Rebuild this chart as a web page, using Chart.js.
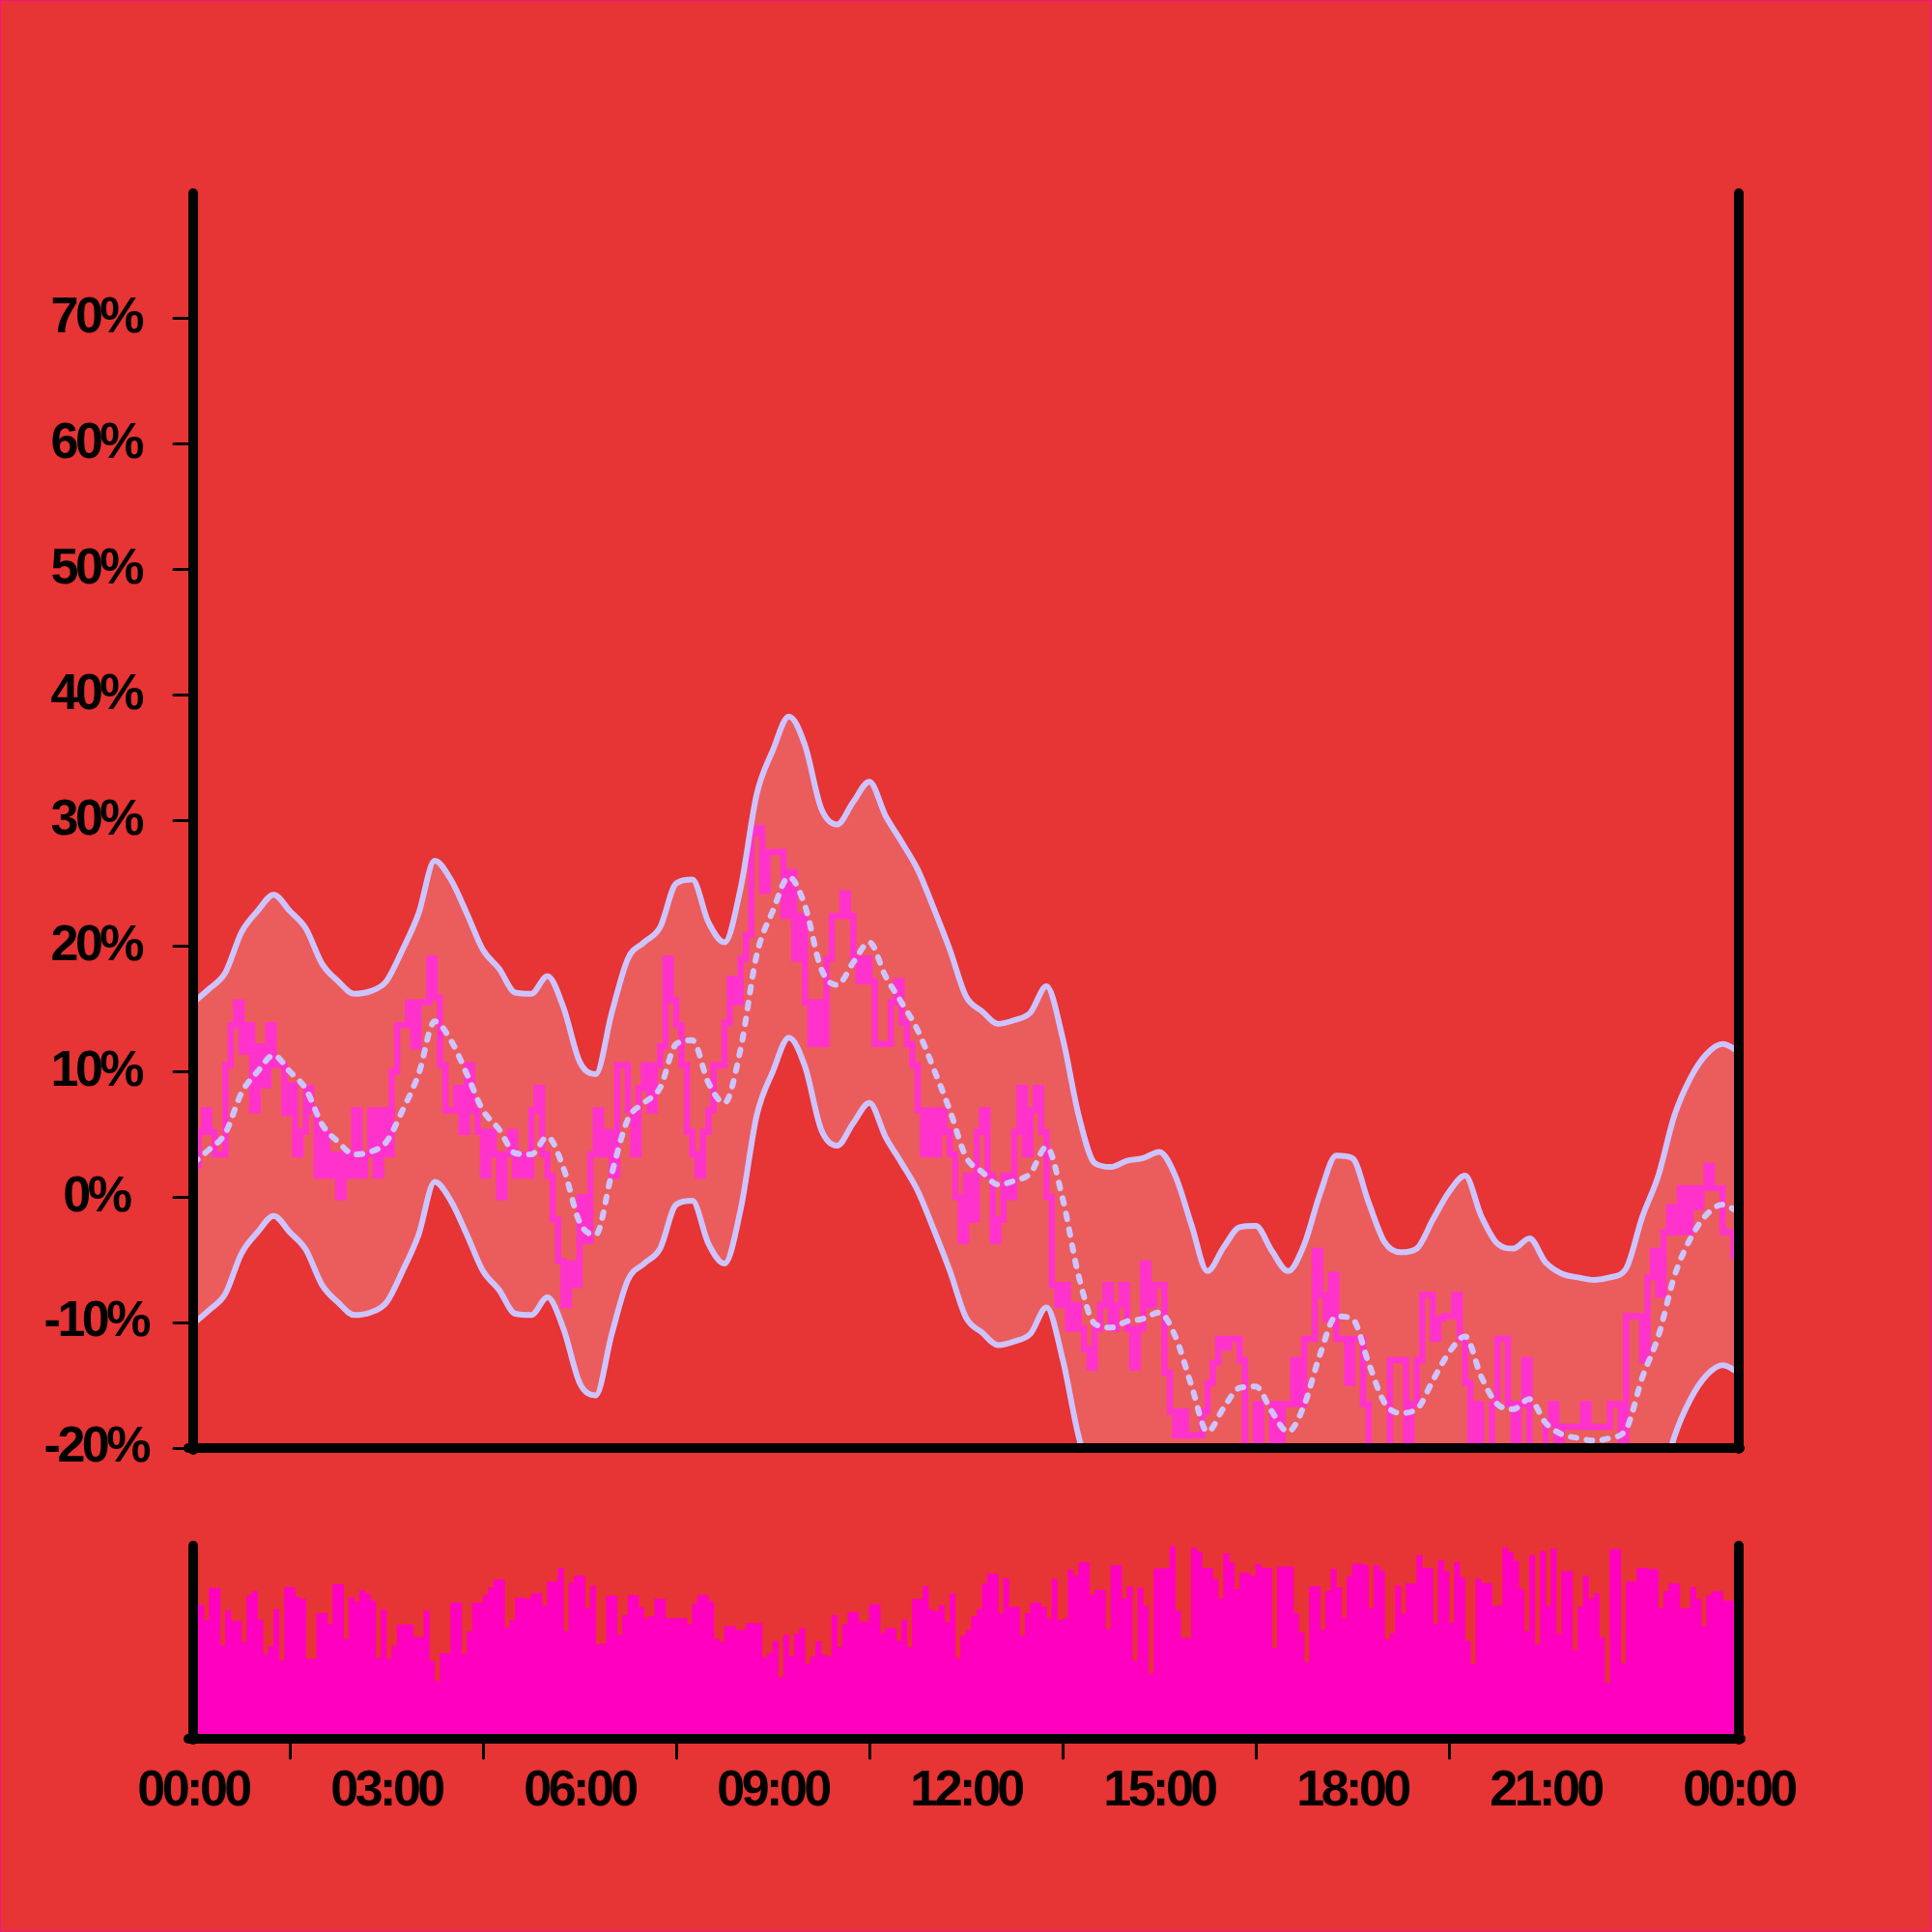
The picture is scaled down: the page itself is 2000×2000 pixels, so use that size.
<!DOCTYPE html>
<html>
<head>
<meta charset="utf-8">
<script src="https://cdn.jsdelivr.net/npm/chart.js@4.4.1/dist/chart.umd.min.js"></script>
<style>
  html, body { margin: 0; padding: 0; background: #e73434; }
  #frame { position: absolute; left: 0; top: 0; width: 2000px; height: 2000px; box-sizing: border-box; border: 1px solid #f0148c; pointer-events: none; z-index: 5; }
  #main { position: absolute; left: 0; top: 0; }
  #vol { position: absolute; left: 0; top: 1560px; }
</style>
</head>
<body>
<canvas id="main" width="2000" height="1560"></canvas>
<canvas id="vol" width="2000" height="440"></canvas>
<div id="frame"></div>
<script>
// ---------- data ----------
const hourTicks = [0, 180, 360, 540, 720, 900, 1080, 1260, 1440];
const hourLabels = ['00:00', '03:00', '06:00', '09:00', '12:00', '15:00', '18:00', '21:00', '00:00'];
const pctTicks = [-20, -10, 0, 10, 20, 30, 40, 50, 60, 70];

const bandStepMin = 15;   // envelope sampled every 15 minutes
const obsStepMin = 5;     // observed series every 5 minutes
const volStepMin = 5;     // volume bars every 5 minutes

const upperBand = [15.5, 16.6, 17.9, 21.1, 22.8, 24.1, 22.8, 21.4, 18.6, 17.2, 16.2, 16.4, 17.2, 19.7, 22.6, 26.8, 25.3, 22.6, 19.7, 18.2, 16.3, 16.2, 17.6, 15.1, 10.8, 9.8, 14.7, 19.0, 20.3, 21.5, 25.0, 25.3, 21.9, 20.3, 24.6, 32.1, 35.6, 38.3, 36.0, 31.0, 29.7, 31.5, 33.1, 30.4, 28.3, 26.1, 23.0, 19.7, 16.0, 14.8, 13.8, 14.1, 14.7, 16.8, 12.7, 6.5, 2.7, 2.4, 2.9, 3.1, 3.6, 1.7, -2.2, -5.9, -4.0, -2.4, -2.3, -4.3, -5.9, -3.8, 0.3, 3.3, 3.1, -0.4, -3.6, -4.4, -4.1, -1.8, 0.4, 1.7, -1.5, -3.7, -4.1, -3.3, -5.2, -6.1, -6.4, -6.6, -6.4, -5.7, -1.6, 1.7, 6.5, 9.5, 11.4, 12.2, 11.6];

const centerLine = [2.7, 3.8, 5.1, 8.3, 10.0, 11.3, 10.0, 8.6, 5.8, 4.4, 3.4, 3.6, 4.4, 6.9, 9.8, 14.0, 12.5, 9.8, 6.9, 5.4, 3.5, 3.4, 4.8, 2.3, -2.0, -3.0, 1.9, 6.2, 7.5, 8.7, 12.2, 12.5, 9.1, 7.5, 11.8, 19.3, 22.8, 25.5, 23.2, 18.2, 16.9, 18.7, 20.3, 17.6, 15.5, 13.3, 10.2, 6.9, 3.2, 2.0, 1.0, 1.3, 1.9, 4.0, -0.1, -6.3, -10.1, -10.4, -9.9, -9.7, -9.2, -11.1, -15.0, -18.7, -16.8, -15.2, -15.1, -17.1, -18.7, -16.6, -12.5, -9.5, -9.7, -13.2, -16.4, -17.2, -16.9, -14.6, -12.4, -11.1, -14.3, -16.5, -16.9, -16.1, -18.0, -18.9, -19.2, -19.4, -19.2, -18.5, -14.4, -11.1, -6.3, -3.3, -1.4, -0.6, -1.2];

const lowerBand = [-10.1, -9.0, -7.7, -4.5, -2.8, -1.5, -2.8, -4.2, -7.0, -8.4, -9.4, -9.2, -8.4, -5.9, -3.0, 1.2, -0.3, -3.0, -5.9, -7.4, -9.3, -9.4, -8.0, -10.5, -14.8, -15.8, -10.9, -6.6, -5.3, -4.1, -0.6, -0.3, -3.7, -5.3, -1.0, 6.5, 10.0, 12.7, 10.4, 5.4, 4.1, 5.9, 7.5, 4.8, 2.7, 0.5, -2.6, -5.9, -9.6, -10.8, -11.8, -11.5, -10.9, -8.8, -12.9, -19.1, -22.9, -23.2, -22.7, -22.5, -22.0, -23.9, -27.8, -31.5, -29.6, -28.0, -27.9, -29.9, -31.5, -29.4, -25.3, -22.3, -22.5, -26.0, -29.2, -30.0, -29.7, -27.4, -25.2, -23.9, -27.1, -29.3, -29.7, -28.9, -30.8, -31.7, -32.0, -32.2, -32.0, -31.3, -27.2, -23.9, -19.1, -16.1, -14.2, -13.4, -14.0];

const observed = [
  2.5, 5.2, 6.9, 5.2, 3.4, 3.4, 10.5, 13.7, 15.5, 11.6, 13.7, 6.9, 12.0, 8.9, 13.7, 10.5, 10.5, 6.7, 8.9, 3.4, 5.2, 8.7, 6.9, 1.7,
  5.2, 1.7, 3.4, 0.0, 3.4, 1.7, 6.9, 1.7, 3.4, 6.9, 1.7, 6.9, 3.4, 10.0, 13.7, 13.7, 15.5, 12.0, 15.5, 15.5, 19.0, 15.9, 10.5, 6.9,
  6.9, 8.7, 5.2, 10.5, 6.9, 5.2, 1.7, 5.2, 3.4, 0.0, 3.4, 5.2, 1.7, 3.4, 1.7, 6.9, 8.7, 3.4, 1.7, -1.8, -5.1, -8.6, -5.3, -7.0,
  0.0, -3.5, 3.4, 6.9, 3.4, 5.2, 1.7, 10.5, 10.5, 6.9, 3.4, 8.7, 10.5, 6.9, 10.5, 12.0, 19.0, 15.7, 13.7, 10.5, 5.2, 3.4, 1.7, 5.2,
  6.9, 10.5, 10.5, 13.9, 17.4, 15.5, 19.0, 20.9, 29.0, 29.4, 24.4, 27.5, 27.5, 27.5, 22.4, 25.9, 19.0, 22.4, 15.5, 12.2, 15.5, 12.2, 19.0, 22.4,
  22.4, 24.2, 22.4, 19.0, 17.2, 19.0, 17.2, 12.2, 12.2, 12.2, 15.5, 17.2, 13.9, 12.2, 10.5, 6.9, 3.4, 6.9, 3.4, 6.9, 5.2, 3.4, 0.0, -3.5,
  1.7, -1.8, 5.2, 6.9, 1.7, -3.5, -1.8, 1.7, 0.0, 5.2, 8.7, 3.4, 6.9, 8.7, 5.2, 0.0, -7.0, -8.6, -7.0, -10.5, -8.6, -10.5, -12.1, -13.6,
  -10.5, -8.6, -7.0, -10.5, -8.6, -7.0, -10.5, -13.6, -10.5, -5.3, -8.6, -7.0, -7.0, -14.0, -17.1, -19.0, -17.1, -19.0, -19.0, -19.0, -17.1, -14.8, -13.2, -11.3,
  -12.0, -11.3, -11.3, -13.0, -21, -21, -16.5, -21, -21, -16.5, -21, -16.5, -16.5, -13.0, -16.5, -11.3, -11.3, -4.3, -7.8, -9.7, -6.2, -11.3, -11.3, -14.8,
  -11.3, -11.3, -16.5, -21, -21, -21, -21, -13.0, -13.0, -13.0, -21, -16.5, -13.0, -7.8, -7.8, -11.3, -9.7, -9.5, -9.5, -7.8, -11.3, -14.8, -21, -16.5,
  -21, -21, -16.5, -11.3, -11.3, -16.5, -21, -16.5, -13.0, -21, -21, -21, -18.1, -16.5, -21, -18.3, -18.3, -18.3, -18.3, -16.5, -18.3, -18.3, -18.3, -18.3,
  -16.5, -16.5, -21, -9.5, -9.5, -9.5, -13.0, -6.4, -4.3, -7.8, -2.8, -0.8, -2.8, 0.7, -2.8, 0.7, -0.8, 0.7, 2.5, 0.7, 0.7, -2.8, -2.8, -4.7,
  -4.7
];

const volume = [
  69.2, 69.2, 61.3, 78, 78, 48.3, 66.3, 61, 61, 50, 74.2, 76.2, 61.5, 43.7, 47.8, 66.8, 40.5, 78.3, 78.3, 73.3, 72.2, 41.2, 41.2, 65,
  65, 59.2, 79.8, 79.8, 51.5, 73.2, 70.8, 76.7, 75.2, 71.3, 41.7, 67, 41.5, 48, 59, 59, 59, 52.5, 52.5, 66.2, 40.3, 29.7, 44.2, 44.2,
  70.3, 70.3, 43.8, 55.5, 70.3, 70.3, 74.2, 78.3, 82.3, 82.3, 57.5, 61.3, 72.8, 72.8, 72.2, 75.2, 75.2, 69, 81.2, 81.2, 88.2, 55.7, 80.7, 84.3,
  84.3, 67.5, 79, 48.7, 49.2, 74, 74, 53.7, 63.8, 74.2, 74.2, 68, 62.3, 63.3, 72.3, 72.3, 62.3, 62.3, 62.3, 62.3, 59.2, 69.8, 74.2, 74.2,
  70.8, 51.7, 50, 58.2, 58.2, 56.2, 56.2, 59.7, 59.7, 59.7, 42, 44.2, 50.5, 31.7, 53.7, 42.5, 54.2, 57.2, 38.7, 42.5, 50.3, 43.3, 42.5, 64,
  47.3, 59.3, 65.5, 65.5, 60.3, 60.3, 69.5, 69.5, 54.5, 57.2, 57.2, 50.5, 61.5, 47.2, 72.2, 72.2, 78.8, 66.8, 65.8, 69.2, 60.3, 75, 41.7, 53.3,
  56.2, 63.3, 67, 80.2, 85.3, 85.3, 65, 83, 68.2, 68.2, 53.3, 65, 70.3, 70.3, 68, 62.2, 82.5, 61.3, 62.3, 87.5, 84.2, 91.2, 91.2, 74.5,
  77, 77, 56.7, 89.7, 89.7, 72.3, 78.7, 40.3, 78, 68.7, 33.7, 88, 88, 88.3, 99.5, 66.3, 52, 52, 98.7, 96.7, 88.3, 88.3, 82.5, 72.5,
  95.8, 91.3, 77.5, 85.8, 85.8, 84.2, 90.5, 88.2, 88.2, 47, 89, 89, 89, 65, 55, 39.7, 78.8, 78.8, 56.3, 76.3, 87.7, 78.3, 62.5, 84,
  90.5, 90.5, 89.8, 67.3, 89.7, 87, 51.3, 54.5, 79.2, 64.7, 80.3, 80.3, 95, 88.3, 88.3, 59.2, 92.2, 86.7, 60, 91.3, 83.3, 50.5, 38.7, 82.8,
  80.5, 80.5, 68.7, 68.7, 98.8, 96.3, 92, 77.5, 55.5, 95, 48.7, 97, 68.7, 98.3, 54.2, 86.7, 86.7, 45.8, 68.3, 84.2, 72.2, 75.3, 52.5, 28.7,
  98, 98, 39, 81.3, 81.3, 88.3, 88.3, 87.7, 87.7, 67.5, 76.3, 80.3, 80.3, 67.5, 67.5, 78.3, 72.2, 58.3, 74.2, 76.2, 76.2, 71.3, 71.3, 71.3
];

// ---------- styling ----------
const FONT = "'Liberation Sans', Arial, Helvetica, sans-serif";
const LAV = '#cdc4ff';
const OBS = '#ff33cc';
const BAR = '#ff00c0';
const AX = '#000000';
const tickFont = { family: FONT, size: 52, weight: 'bold' };
const LAV_W = 6;
const OBS_W = 6.5;

const styleCtx = {
  id: 'styleCtx',
  beforeLayout(chart) { chart.ctx.letterSpacing = '-3.5px'; },
  beforeDraw(chart) {
    chart.ctx.letterSpacing = '-3.5px';
    chart.ctx.lineCap = 'round';
    chart.ctx.lineJoin = 'round';
  }
};

const toPts = (vals, step, offset) => vals.map((v, i) => ({ x: i * step + (offset || 0), y: v }));

// main panel: y = -20% at bottom, 80% at the visual top of the frame line
const yMin = -20, yMax = 79.615;

new Chart(document.getElementById('main'), {
  type: 'line',
  data: {
    datasets: [
      { label: 'upper', data: toPts(upperBand, bandStepMin), fill: 1, backgroundColor: 'rgba(255,255,255,0.2)',
        borderColor: LAV, borderWidth: LAV_W, pointRadius: 0, cubicInterpolationMode: 'monotone',
        borderCapStyle: 'round', borderJoinStyle: 'round', order: 0 },
      { label: 'lower', data: toPts(lowerBand, bandStepMin), fill: false,
        borderColor: LAV, borderWidth: LAV_W, pointRadius: 0, cubicInterpolationMode: 'monotone',
        borderCapStyle: 'round', borderJoinStyle: 'round', order: 0 },
      { label: 'center', data: toPts(centerLine, bandStepMin), fill: false, borderDash: [6, 10.5],
        borderColor: LAV, borderWidth: LAV_W, pointRadius: 0, cubicInterpolationMode: 'monotone',
        borderCapStyle: 'round', borderJoinStyle: 'round', order: 0 },
      { label: 'observed', data: toPts(observed, obsStepMin), borderColor: OBS, borderWidth: OBS_W, pointRadius: 0,
        stepped: true, fill: false, borderJoinStyle: 'miter', order: 1 }
    ]
  },
  options: {
    responsive: false, animation: false, devicePixelRatio: 1,
    layout: { padding: { top: 205, left: 0, right: 0, bottom: 0 } },
    elements: { line: { borderWidth: LAV_W }, point: { radius: 0 } },
    plugins: { legend: { display: false }, tooltip: { enabled: false }, filler: { drawTime: 'beforeDatasetsDraw' } },
    scales: {
      x: {
        type: 'linear', min: 0, max: 1440,
        ticks: { display: false },
        grid: { display: false, drawTicks: false },
        border: { display: true, color: AX, width: 10, z: 1 },
        afterFit: s => { s.height = 61; }
      },
      y: {
        type: 'linear', position: 'left', min: yMin, max: yMax,
        afterBuildTicks: s => { s.ticks = pctTicks.map(v => ({ value: v })); },
        ticks: { color: AX, font: tickFont, padding: 27, crossAlign: 'center', callback: v => v + '%' },
        grid: { display: true, drawOnChartArea: false, drawTicks: true, tickLength: 20, lineWidth: 3, color: AX },
        border: { display: true, color: AX, width: 10, z: 1 },
        afterFit: s => { s.width = 200; }
      },
      y2: {
        type: 'linear', position: 'right', min: yMin, max: yMax,
        ticks: { display: false },
        grid: { display: false, drawTicks: false },
        border: { display: true, color: AX, width: 10, z: 1 },
        afterFit: s => { s.width = 200; }
      }
    }
  },
  plugins: [styleCtx]
});

// volume panel: 0 at bottom line, 97.5 at the visual top of the frame lines
const vMax = 97.5;
new Chart(document.getElementById('vol'), {
  type: 'bar',
  data: {
    datasets: [{
      label: 'volume', data: toPts(volume, volStepMin, volStepMin / 2),
      backgroundColor: BAR, borderWidth: 0, barPercentage: 1, categoryPercentage: 1, clip: false
    }]
  },
  options: {
    responsive: false, animation: false, devicePixelRatio: 1,
    layout: { padding: { top: 45, left: 0, right: 0, bottom: 0 } },
    plugins: { legend: { display: false }, tooltip: { enabled: false } },
    scales: {
      x: {
        type: 'linear', min: 0, max: 1440, offset: false,
        afterBuildTicks: s => { s.ticks = hourTicks.map(v => ({ value: v })); },
        ticks: { autoSkip: false, maxRotation: 0, minRotation: 0, padding: 3, color: AX, font: tickFont,
                 callback: (v, i) => hourLabels[i] },
        grid: { display: true, drawOnChartArea: false, drawTicks: true, tickLength: 20, lineWidth: 3, color: AX,
                tickWidth: 3,
                tickColor: c => (c.tick && (c.tick.value === 0 || c.tick.value === 1440)) ? 'rgba(0,0,0,0)' : AX },
        border: { display: true, color: AX, width: 10, z: 1 },
        afterFit: s => { s.height = 200; }
      },
      y: {
        type: 'linear', position: 'left', min: 0, max: vMax,
        ticks: { display: false },
        grid: { display: false, drawTicks: false },
        border: { display: true, color: AX, width: 10, z: 1 },
        afterFit: s => { s.width = 200; }
      },
      y2: {
        type: 'linear', position: 'right', min: 0, max: vMax,
        ticks: { display: false },
        grid: { display: false, drawTicks: false },
        border: { display: true, color: AX, width: 10, z: 1 },
        afterFit: s => { s.width = 200; }
      }
    }
  },
  plugins: [styleCtx]
});
</script>
</body>
</html>
